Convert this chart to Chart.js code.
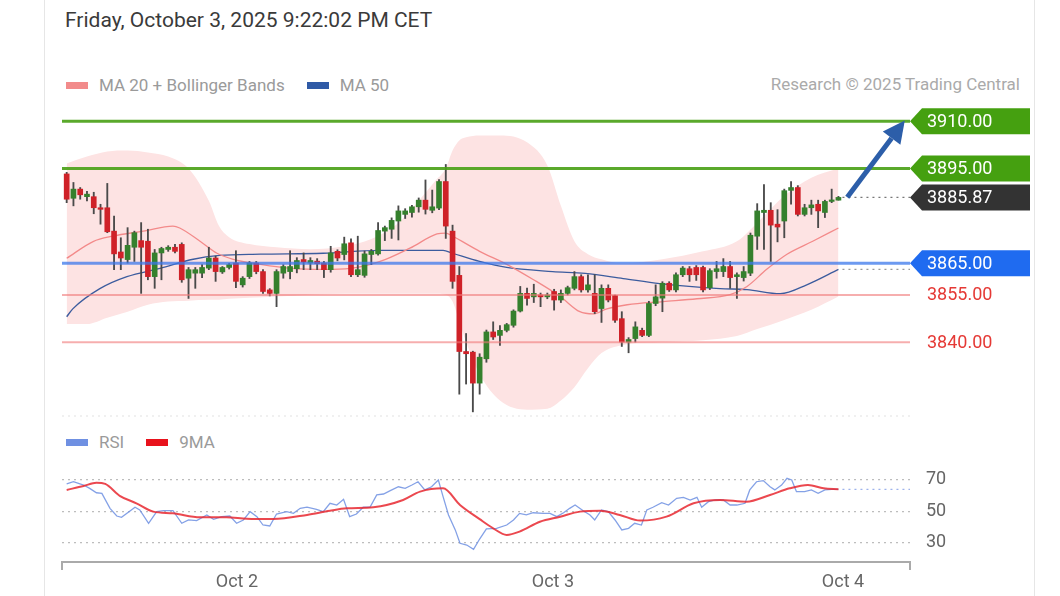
<!DOCTYPE html>
<html>
<head>
<meta charset="utf-8">
<script src="https://cdn.jsdelivr.net/npm/chart.js@4.4.0/dist/chart.umd.min.js"></script>
<style>
  body { margin: 0; background: #fff; font-family: Roboto, "Liberation Sans", sans-serif; }
  #page { position: relative; width: 1060px; height: 596px; overflow: hidden; }
  .card { position: absolute; left: 44px; top: -2px; width: 989px; height: 610px;
          border-left: 1px solid #e6e6e6; border-right: 1px solid #e6e6e6; }
  .title { position: absolute; left: 65px; top: 8px; font-size: 21px; color: #3a3a3a; }
  .legend { position: absolute; left: 66px; font-size: 17px; color: #9a9a9a;
            display: flex; align-items: center; height: 20px; }
  .sw { display: inline-block; width: 22px; height: 7px; margin-right: 11px; }
  .gap { width: 22px; }
  .credit { position: absolute; right: 40px; top: 74px; font-size: 17px; color: #aaa; }
  canvas { position: absolute; left: 0; }
</style>
</head>
<body>
<div id="page">
  <div class="card"></div>
  <div class="title">Friday, October 3, 2025 9:22:02 PM CET</div>
  <div class="legend" style="top:75px">
    <span class="sw" style="background:#f28b8b"></span>MA 20 + Bollinger Bands
    <span class="gap"></span>
    <span class="sw" style="background:#2f5aa6"></span>MA 50
  </div>
  <div class="credit">Research © 2025 Trading Central</div>
  <div class="legend" style="top:432px">
    <span class="sw" style="background:#6f90e2"></span>RSI
    <span class="gap"></span>
    <span class="sw" style="background:#e8121c"></span>9MA
  </div>
  <canvas id="chart-price" width="1060" height="420" style="top:0"></canvas>
  <canvas id="chart-rsi" width="1060" height="176" style="top:420px"></canvas>
</div>

<script>
// ---- candles (30 min bars), index 0..114 ----
const opens = [
  3893.3, 3885.6, 3888.5, 3886.1, 3886.1, 3882.6, 3882.6, 3875.2, 3868.6, 3866.2,
  3870.1, 3872.2, 3872.0, 3860.8, 3868.3, 3869.4, 3870.1, 3871.0, 3860.3, 3861.9,
  3861.9, 3863.5, 3866.7, 3862.3, 3863.7, 3865.1, 3858.2, 3860.8, 3865.1, 3862.4,
  3856.6, 3855.5, 3861.9, 3862.4, 3863.3, 3866.2, 3865.1, 3865.7, 3865.1, 3863.0,
  3868.8, 3867.8, 3871.5, 3861.4, 3861.2, 3867.8, 3868.0, 3875.2, 3875.8, 3878.4,
  3880.5, 3881.1, 3882.9, 3885.0, 3881.8, 3882.5, 3890.9, 3875.2, 3861.2, 3837.1,
  3836.9, 3827.1, 3834.8, 3843.3, 3842.2, 3843.8, 3845.4, 3849.9, 3855.5, 3854.4,
  3855.0, 3854.4, 3856.1, 3853.4, 3855.5, 3857.1, 3860.8, 3856.6, 3855.5, 3850.7,
  3857.1, 3854.8, 3847.5, 3840.1, 3841.2, 3843.8, 3842.2, 3852.3, 3854.0, 3858.7,
  3856.6, 3861.4, 3863.3, 3863.7, 3863.7, 3857.3, 3862.4, 3862.4, 3864.0, 3860.8,
  3860.5, 3861.9, 3873.6, 3881.1, 3881.8, 3877.4, 3878.4, 3888.1, 3889.0, 3880.5,
  3882.6, 3883.7, 3881.1, 3884.6, 3885.0
];
const highs = [
  3893.8, 3890.6, 3889.0, 3887.8, 3887.5, 3883.7, 3890.3, 3880.0, 3873.1, 3876.3,
  3875.2, 3877.9, 3875.8, 3869.4, 3870.1, 3870.6, 3871.0, 3871.5, 3863.7, 3863.7,
  3864.6, 3870.1, 3867.3, 3864.0, 3865.0, 3869.0, 3860.8, 3865.6, 3865.6, 3863.0,
  3857.0, 3863.0, 3864.6, 3869.0, 3866.8, 3868.3, 3866.8, 3866.5, 3865.6, 3870.4,
  3869.3, 3873.3, 3872.8, 3873.6, 3868.9, 3869.4, 3877.9, 3876.8, 3879.4, 3883.2,
  3882.3, 3883.4, 3885.7, 3891.4, 3888.2, 3891.5, 3896.3, 3877.1, 3864.0, 3842.8,
  3837.2, 3836.4, 3843.9, 3846.5, 3845.3, 3846.0, 3850.3, 3857.7, 3857.2, 3858.4,
  3855.6, 3855.6, 3856.8, 3856.6, 3857.8, 3862.4, 3861.4, 3861.4, 3861.4, 3858.2,
  3858.2, 3855.0, 3849.7, 3841.5, 3846.5, 3844.5, 3853.0, 3858.2, 3859.2, 3859.2,
  3862.0, 3864.0, 3864.0, 3864.3, 3864.1, 3863.3, 3865.6, 3866.5, 3865.6, 3862.0,
  3864.0, 3874.6, 3883.9, 3889.9, 3884.2, 3882.0, 3888.5, 3890.9, 3889.6, 3883.7,
  3885.0, 3885.0, 3885.0, 3888.5, 3886.2
];
const lows = [
  3884.2, 3883.2, 3885.3, 3884.8, 3880.7, 3877.4, 3874.7, 3863.0, 3863.0, 3865.1,
  3865.6, 3855.5, 3859.8, 3857.1, 3859.8, 3868.8, 3868.3, 3859.0, 3853.9, 3857.1,
  3860.5, 3863.0, 3859.3, 3861.8, 3863.2, 3857.3, 3857.5, 3860.2, 3861.7, 3855.5,
  3854.7, 3851.3, 3860.3, 3860.1, 3862.0, 3863.0, 3863.0, 3863.0, 3860.5, 3862.2,
  3865.8, 3866.1, 3860.8, 3860.8, 3860.6, 3864.6, 3867.6, 3872.2, 3872.9, 3872.4,
  3879.2, 3879.6, 3881.2, 3880.6, 3881.0, 3882.0, 3872.9, 3857.1, 3823.6, 3826.8,
  3818.0, 3823.6, 3833.7, 3840.9, 3839.0, 3843.3, 3844.8, 3849.6, 3851.8, 3852.6,
  3851.3, 3853.8, 3850.2, 3852.6, 3855.0, 3856.6, 3855.9, 3855.9, 3849.1, 3846.3,
  3852.8, 3846.3, 3838.7, 3836.7, 3840.1, 3841.8, 3841.8, 3851.6, 3849.7, 3856.1,
  3856.0, 3860.8, 3859.3, 3859.6, 3856.0, 3856.7, 3860.3, 3860.8, 3857.1, 3853.9,
  3859.4, 3861.1, 3869.4, 3869.4, 3865.6, 3871.8, 3873.1, 3883.7, 3880.0, 3880.0,
  3880.5, 3876.3, 3879.5, 3884.2, 3885.0
];
const closes = [
  3885.3, 3888.5, 3886.7, 3886.9, 3882.6, 3882.1, 3875.0, 3868.0, 3866.7, 3870.7,
  3874.7, 3870.1, 3860.8, 3868.3, 3869.7, 3870.1, 3868.8, 3859.8, 3863.0, 3863.0,
  3863.7, 3866.7, 3862.4, 3863.7, 3864.6, 3859.3, 3860.3, 3865.1, 3862.4, 3856.1,
  3855.5, 3862.4, 3864.0, 3864.0, 3865.9, 3865.4, 3865.9, 3864.9, 3863.0, 3868.3,
  3866.7, 3871.2, 3861.4, 3863.0, 3868.0, 3868.8, 3875.4, 3876.3, 3878.6, 3881.6,
  3881.6, 3882.9, 3885.0, 3882.1, 3882.9, 3890.9, 3876.8, 3859.3, 3837.1, 3836.4,
  3827.1, 3835.3, 3843.3, 3841.7, 3843.8, 3845.6, 3849.9, 3855.5, 3853.9, 3855.5,
  3854.4, 3855.0, 3853.4, 3855.5, 3857.3, 3860.8, 3856.6, 3858.2, 3849.7, 3857.1,
  3853.4, 3847.0, 3840.1, 3840.9, 3844.9, 3842.2, 3852.3, 3854.4, 3858.7, 3856.6,
  3861.4, 3863.5, 3861.4, 3861.4, 3856.6, 3862.7, 3863.3, 3864.0, 3860.5, 3861.4,
  3862.4, 3873.9, 3881.6, 3881.8, 3877.1, 3876.5, 3888.0, 3889.0, 3880.5, 3882.6,
  3883.5, 3881.6, 3884.6, 3885.0, 3885.87
];

// ---- MA 20 / MA 50 (at bar index) ----
const ma20Idx = [0, 3.9, 6.8, 11.3, 15.7, 16.7, 19.7, 22.2, 24.6, 28.6, 33.4, 37.9, 41.9, 46.3, 50.7, 54.7, 56, 57,
  61, 65, 68.9, 72.9, 75.8, 77.8, 79.8, 82.8, 88.1, 93.1, 98, 100.5, 103.4, 106.4, 110.2, 114];
const ma20Val = [3866.6, 3871.9, 3873.6, 3875.2, 3876.8, 3876.2, 3872.0, 3868.2, 3866.3, 3864.7, 3863.4, 3863.1,
  3863.4, 3865.6, 3869.8, 3874.3, 3874.6, 3873.6, 3868.8, 3864.7, 3859.9, 3854.5, 3849.7, 3849.0, 3850.6,
  3851.9, 3852.9, 3853.8, 3855.1, 3857.7, 3863.1, 3867.9, 3872.0, 3876.2];
const ma50Idx = [0, 0.9, 4.9, 8.9, 13.8, 18.7, 22.6, 28.6, 37.9, 46.3, 55.6, 57, 61, 65, 71.8, 76.6, 82.2, 87.6,
  96.5, 100.5, 105.4, 109.4, 114];
const ma50Val = [3848.1, 3850.6, 3857.0, 3860.8, 3863.4, 3866.3, 3867.5, 3867.9, 3868.2, 3869.1, 3869.1, 3868.2,
  3865.6, 3863.7, 3862.4, 3861.8, 3860.2, 3858.6, 3857.0, 3856.7, 3855.4, 3858.3, 3863.1];

// ---- Bollinger bands ----
const bbIdx = [0, 3, 6, 9, 12, 15, 18, 21, 22.5, 24, 27, 31, 36, 41, 45, 49, 52, 54.5, 56, 57, 58, 59, 61, 64,
  68, 71, 73, 75, 77, 79, 82, 88, 94, 99, 102, 106, 110, 114];
const bbUpper = [3896.6, 3898.8, 3900.4, 3900.7, 3900.1, 3898.8, 3895.0, 3884.8, 3876.8, 3873.3, 3871.1, 3870.1,
  3869.5, 3870.4, 3872.7, 3877.8, 3884.8, 3891.2, 3895.0, 3900.7, 3903.9, 3904.9, 3905.5, 3905.5, 3903.3,
  3896.0, 3883.2, 3872.0, 3867.9, 3866.3, 3865.0, 3866.3, 3868.8, 3872.0, 3877.8, 3886.4, 3892.1, 3895.0];
const bbLower = [3845.8, 3845.8, 3847.8, 3849.7, 3851.9, 3852.9, 3853.2, 3853.5, 3853.5, 3853.8, 3854.1, 3854.5,
  3855.1, 3855.4, 3855.4, 3855.4, 3855.4, 3855.4, 3855.1, 3852.9, 3846.5, 3840.1, 3829.9, 3821.6, 3818.7,
  3819.0, 3821.6, 3825.8, 3831.8, 3836.6, 3839.1, 3840.1, 3840.7, 3842.0, 3844.2, 3847.1, 3850.3, 3854.5];

// ---- levels ----
const levelValues = [3910, 3895, 3865, 3855, 3840];
const levelKinds  = ['target', 'target', 'pivot', 'support', 'support'];

// ---- RSI panel ----
const rsiIdx = [0, 1, 2.5, 3.4, 4.4, 5.2, 6.4, 7.4, 8.1, 10.1, 10.8, 12.1, 13.3, 14.3, 15.7, 17, 18, 19.2, 20.7,
  21.7, 22.9, 24.1, 25.1, 26.1, 27.1, 28.1, 29, 30, 31, 32.5, 33.5, 34.5, 35.5, 36.9, 37.9, 38.9, 39.9, 40.9,
  41.8, 42.8, 43.8, 44.8, 45.8, 46.8, 47.8, 49, 50, 51, 51.9, 52.9, 53.9, 54.9, 55.6, 56.4, 57.4, 58.1, 59.1,
  60.1, 61, 62, 63.5, 65, 66, 66.9, 67.9, 68.9, 70.4, 71.4, 72.4, 73.4, 74.3, 75.1, 76.3, 77.3, 78, 79, 80,
  81, 82, 83, 83.9, 84.9, 85.7, 86.6, 87.9, 88.9, 90.1, 91.1, 92.1, 93.1, 93.8, 94.8, 95.8, 97, 98, 99,
  100.2, 100.9, 101.9, 102.9, 103.9, 104.6, 105.6, 106.4, 107.1, 107.8, 109, 110, 111, 112, 113, 114];
const rsiVal = [67.5, 68.9, 66.8, 64.7, 61.9, 61.5, 52, 47.1, 46.3, 52.7, 51, 42.5, 49.9, 50.5, 50.5, 42.5, 44.6,
  44.2, 47.8, 45, 46.7, 47.1, 42.5, 44.6, 49.9, 46.7, 41.4, 40.8, 48.4, 49.9, 48.8, 52, 52.7, 51.4, 49.9,
  55.2, 54.1, 57.7, 46.7, 48.4, 52.7, 52.7, 60.5, 61.1, 63.2, 65.7, 64.7, 66.8, 68.9, 63.7, 65.7, 70, 59.4,
  47.8, 38.3, 29.8, 28.7, 26, 32.5, 39, 39.3, 41.4, 44.6, 48.8, 47.8, 49.2, 48.8, 48.8, 46.7, 49.2, 52, 54.1,
  50.5, 47.8, 44.6, 51, 49.9, 44.6, 38.3, 39.3, 42.5, 41.4, 51, 52.7, 55.6, 54.1, 58.4, 59, 57.3, 59, 52.7,
  56.2, 57.3, 57.3, 54.1, 54.1, 55.2, 63.7, 68.9, 69.6, 65.7, 63.7, 66.8, 71.1, 70, 62.6, 62.6, 63.7, 61.5,
  63.7, 64.1, 64.1];
const ma9Idx = [0, 2.5, 4.4, 5.7, 7.9, 10.3, 12.8, 15.7, 19.7, 23.6, 26.6, 30.5, 35.5, 38.9, 41.4, 45.3, 49.7,
  52.2, 55.6, 58.1, 61, 63, 65, 66.9, 69.9, 72.9, 75.8, 78.8, 81.7, 84.7, 88.6, 92.6, 96.5, 100.4, 103.9,
  106.8, 109.5, 111.8, 114];
const ma9Val = [63.7, 66.2, 68.3, 67.5, 59.8, 55.2, 49.9, 48.8, 46.3, 46.3, 45.4, 45.2, 47.8, 50.5, 52, 52.7,
  57.3, 62.6, 64.7, 54.1, 45.1, 39.3, 35.1, 37.2, 43.5, 46.7, 49.9, 50.5, 47.8, 44.2, 46.7, 55.2, 57.3, 56.2,
  60.5, 64.7, 66.8, 64.7, 64.1];
const rsiTicks = [30, 50, 70];

// ---- time axis ----
const tickPos    = [25.15, 71.83, 114.67];
const tickLabels = ['Oct 2', 'Oct 3', 'Oct 4'];

const X_MIN = -0.69, X_MAX = 124.57;
const LAST = closes.length - 1;
const FONT = 'Roboto, "Liberation Sans", sans-serif';

const GREEN = '#35802d';
const RED = '#cf2128';

const pts = (xs, ys) => xs.map((x, i) => ({ x, y: ys[i] }));

// tag box with a pointed left edge
function tag(ctx, xl, yc, text, fill) {
  const w = 120, h = 26, n = 12;
  ctx.beginPath();
  ctx.moveTo(xl, yc);
  ctx.lineTo(xl + n, yc - h / 2);
  ctx.lineTo(xl + w, yc - h / 2);
  ctx.lineTo(xl + w, yc + h / 2);
  ctx.lineTo(xl + n, yc + h / 2);
  ctx.closePath();
  ctx.fillStyle = fill;
  ctx.fill();
  ctx.fillStyle = '#fff';
  ctx.fillText(text, xl + 17, yc + 1);
}

function dotted(ctx, x1, x2, y, color) {
  ctx.save();
  ctx.strokeStyle = color;
  ctx.lineWidth = 1.2;
  ctx.setLineDash([2, 4]);
  ctx.beginPath();
  ctx.moveTo(x1, y);
  ctx.lineTo(x2, y);
  ctx.stroke();
  ctx.restore();
}

const priceOverlay = {
  id: 'priceOverlay',
  afterDatasetsDraw(chart) {
    const { ctx, chartArea: a, scales: { x, y } } = chart;
    ctx.save();
    // guides from last values to the price tags
    const xl = x.getPixelForValue(LAST) + 4;
    dotted(ctx, xl, a.right, y.getPixelForValue(closes[LAST]), '#777');
    dotted(ctx, xl, a.right, y.getPixelForValue(ma50Val[ma50Val.length - 1]), '#999');
    dotted(ctx, a.left, a.right, a.bottom - 2, '#e2e2e2');

    // forecast arrow
    const x0 = x.getPixelForValue(115.3), y0 = y.getPixelForValue(3885.9);
    const x1 = x.getPixelForValue(123.8), y1 = y.getPixelForValue(3910.2);
    const ang = Math.atan2(y1 - y0, x1 - x0);
    const hl = 22, hw = 11;
    const bx = x1 - hl * Math.cos(ang), by = y1 - hl * Math.sin(ang);
    ctx.strokeStyle = '#2c5ea9';
    ctx.fillStyle = '#2c5ea9';
    ctx.lineWidth = 5;
    ctx.beginPath();
    ctx.moveTo(x0, y0);
    ctx.lineTo(bx, by);
    ctx.stroke();
    ctx.beginPath();
    ctx.moveTo(x1, y1);
    ctx.lineTo(bx + hw * Math.sin(ang), by - hw * Math.cos(ang));
    ctx.lineTo(bx - hw * Math.sin(ang), by + hw * Math.cos(ang));
    ctx.closePath();
    ctx.fill();

    // tags
    ctx.font = '18px ' + FONT;
    ctx.textBaseline = 'middle';
    ctx.textAlign = 'left';
    levelValues.forEach((v, i) => {
      const py = y.getPixelForValue(v);
      const txt = v.toFixed(2);
      if (levelKinds[i] === 'target') tag(ctx, a.right, py, txt, '#45a010');
      else if (levelKinds[i] === 'pivot') tag(ctx, a.right, py, txt, '#1f6bf0');
      else {
        ctx.fillStyle = '#e53935';
        ctx.fillText(txt, a.right + 17, py + 1);
      }
    });
    tag(ctx, a.right, y.getPixelForValue(closes[LAST]), closes[LAST].toFixed(2), '#333');
    ctx.restore();
  }
};

function buildPriceChart() {
  const ctx = document.getElementById('chart-price').getContext('2d');
  const levelColor = k => k === 'target' ? 'rgba(72,160,20,0.9)'
    : k === 'pivot' ? 'rgba(60,120,235,0.75)' : 'rgba(240,120,120,0.6)';

  const levelSets = levelValues.map((v, i) => ({
    type: 'line',
    data: [{ x: X_MIN, y: v }, { x: X_MAX, y: v }],
    borderColor: levelColor(levelKinds[i]),
    borderWidth: levelKinds[i] === 'support' ? 2 : 3,
    pointRadius: 0,
    order: 1,
  }));

  new Chart(ctx, {
    type: 'bar',
    data: {
      datasets: [
        {
          type: 'line',
          data: pts(bbIdx, bbUpper),
          borderWidth: 0,
          pointRadius: 0,
          cubicInterpolationMode: 'monotone',
          backgroundColor: '#fde3e3',
          fill: '+1',
          order: 20,
        },
        {
          type: 'line',
          data: pts(bbIdx, bbLower),
          borderWidth: 0,
          pointRadius: 0,
          cubicInterpolationMode: 'monotone',
          fill: false,
          order: 21,
        },
        {
          type: 'line',
          data: pts(ma20Idx, ma20Val),
          borderColor: '#f38a8a',
          borderWidth: 1.3,
          pointRadius: 0,
          cubicInterpolationMode: 'monotone',
          order: 10,
        },
        {
          type: 'line',
          data: pts(ma50Idx, ma50Val),
          borderColor: '#3c5c9e',
          borderWidth: 1.3,
          pointRadius: 0,
          cubicInterpolationMode: 'monotone',
          order: 10,
        },
        {
          // wicks
          data: lows.map((l, i) => ({ x: i, y: [l, highs[i]] })),
          backgroundColor: '#4a4a4a',
          barThickness: 1.2,
          grouped: false,
          order: 4,
        },
        {
          // bodies
          data: opens.map((o, i) => ({ x: i, y: [o, closes[i]] })),
          backgroundColor: opens.map((o, i) => closes[i] >= o ? GREEN : RED),
          barThickness: 5,
          minBarLength: 1.5,
          grouped: false,
          order: 3,
        },
        ...levelSets,
      ],
    },
    options: {
      responsive: false,
      animation: false,
      layout: { padding: { left: 62, right: 150, top: 100, bottom: 2 } },
      plugins: { legend: { display: false }, tooltip: { enabled: false } },
      scales: {
        x: { type: 'linear', min: X_MIN, max: X_MAX, offset: false, display: false },
        y: { min: 3816.06, max: 3916.7, display: false },
      },
    },
    plugins: [priceOverlay],
  });
}

const rsiOverlay = {
  id: 'rsiOverlay',
  afterDatasetsDraw(chart) {
    const { ctx, chartArea: a, scales: { x, y } } = chart;
    ctx.save();
    const lastX = x.getPixelForValue(rsiIdx[rsiIdx.length - 1]);
    dotted(ctx, lastX + 4, a.right, y.getPixelForValue(rsiVal[rsiVal.length - 1]), '#9db2ec');
    // end caps of the time axis
    ctx.strokeStyle = '#aaa';
    ctx.lineWidth = 2;
    ctx.beginPath();
    ctx.moveTo(a.left, a.bottom); ctx.lineTo(a.left, a.bottom + 8);
    ctx.moveTo(a.right, a.bottom); ctx.lineTo(a.right, a.bottom + 8);
    ctx.stroke();
    ctx.restore();
  }
};

function buildRsiChart() {
  const ctx = document.getElementById('chart-rsi').getContext('2d');
  new Chart(ctx, {
    type: 'line',
    data: {
      datasets: [
        {
          data: pts(ma9Idx, ma9Val),
          borderColor: 'rgba(232,40,48,0.85)',
          borderWidth: 2,
          pointRadius: 0,
          cubicInterpolationMode: 'monotone',
          order: 1,
        },
        {
          data: pts(rsiIdx, rsiVal),
          borderColor: 'rgba(110,144,226,0.85)',
          borderWidth: 1.3,
          pointRadius: 0,
          order: 2,
        },
      ],
    },
    options: {
      responsive: false,
      animation: false,
      layout: { padding: { left: 62, right: 0, top: 43, bottom: 0 } },
      plugins: { legend: { display: false }, tooltip: { enabled: false } },
      scales: {
        x: {
          type: 'linear',
          min: X_MIN,
          max: X_MAX,
          afterBuildTicks: s => { s.ticks = tickPos.map(v => ({ value: v })); },
          afterFit: s => { s.height = 34; },
          grid: { display: false, drawTicks: false },
          border: { display: true, color: '#aaa', width: 2 },
          ticks: {
            autoSkip: false,
            maxRotation: 0,
            padding: 10,
            color: '#666',
            font: { family: FONT, size: 18 },
            callback: (v, i) => tickLabels[i],
          },
        },
        y: {
          position: 'right',
          min: 17.9,
          max: 80.8,
          afterBuildTicks: s => { s.ticks = rsiTicks.map(v => ({ value: v })); },
          afterFit: s => { s.width = 150; },
          grid: { color: '#bdbdbd', lineWidth: 1.2, drawTicks: false },
          border: { display: false, dash: [2, 4] },
          ticks: {
            padding: 16,
            color: '#666',
            font: { family: FONT, size: 18 },
          },
        },
      },
    },
    plugins: [rsiOverlay],
  });
}

buildPriceChart();
buildRsiChart();
</script>
</body>
</html>
